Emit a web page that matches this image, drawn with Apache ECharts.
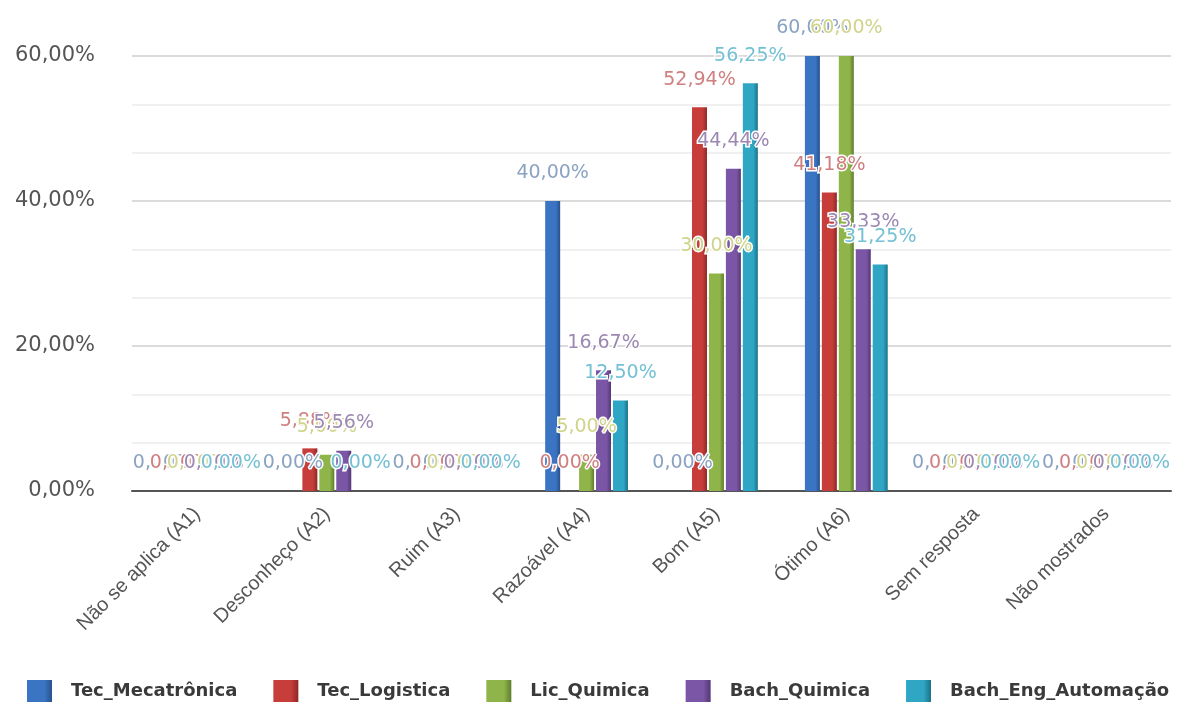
<!DOCTYPE html>
<html>
<head>
<meta charset="utf-8">
<script src="https://cdn.jsdelivr.net/npm/echarts@6/dist/echarts.min.js"></script>
<style>
html,body{margin:0;padding:0;background:#fff;}
#chart{width:1179px;height:703px;}
</style>
</head>
<body>
<div id="chart"></div>
<script>
const categories = ['Não se aplica (A1)', 'Desconheço (A2)', 'Ruim (A3)', 'Razoável (A4)', 'Bom (A5)', 'Ótimo (A6)', 'Sem resposta', 'Não mostrados'];
const seriesNames = ['Tec_Mecatrônica', 'Tec_Logistica', 'Lic_Quimica', 'Bach_Quimica', 'Bach_Eng_Automação'];
const tecMecatronica = [0, 0, 0, 40.00, 0, 60.00, 0, 0];
const tecLogistica   = [0, 5.88, 0, 0, 52.94, 41.18, 0, 0];
const licQuimica     = [0, 5.00, 0, 5.00, 30.00, 60.00, 0, 0];
const bachQuimica    = [0, 5.56, 0, 16.67, 44.44, 33.33, 0, 0];
const bachEngAuto    = [0, 0, 0, 12.50, 56.25, 31.25, 0, 0];
const yTicks = [0, 20, 40, 60];

const seriesData = [tecMecatronica, tecLogistica, licQuimica, bachQuimica, bachEngAuto];
const barColors = ['#3b74c2', '#c63d3a', '#8fb54a', '#7c56a6', '#2ea6c4'];
const darkColors = ['#27528c', '#8e2826', '#5f7d2c', '#523874', '#1b7188'];
const labelColors = ['#8aa3c2', '#cf7f80', '#cfd48a', '#9c88b2', '#74c0d4'];

function fmt(v){ return v.toFixed(2).replace('.', ',') + '%'; }

const series = seriesData.map((d, i) => ({
  name: seriesNames[i],
  type: 'bar',
  data: d,
  barWidth: 15,
  barGap: '13%',
  itemStyle: {
    color: new echarts.graphic.LinearGradient(0, 0, 1, 0, [
      {offset: 0, color: barColors[i]},
      {offset: 0.7, color: barColors[i]},
      {offset: 1, color: darkColors[i]}
    ])
  },
  label: {
    show: true,
    position: 'top',
    distance: 18,
    formatter: p => fmt(p.value),
    color: labelColors[i],
    fontSize: 19,
    fontFamily: 'DejaVu Sans, sans-serif',
    textBorderColor: '#fff',
    textBorderWidth: 3
  }
}));

const chart = echarts.init(document.getElementById('chart'));
chart.setOption({
  animation: false,
  backgroundColor: '#fff',
  grid: { left: 132, right: 8, top: 56, bottom: 212, containLabel: false },
  legend: {
    data: seriesNames.map(n => ({name: n, icon: 'rect'})),
    left: 27,
    bottom: 1,
    padding: 0,
    itemWidth: 25,
    itemHeight: 22,
    itemGap: 36,
    textStyle: {
      fontSize: 18,
      fontWeight: 'bold',
      color: '#3a3a3a',
      fontFamily: 'DejaVu Sans, sans-serif',
      padding: [0, 0, 0, 14]
    }
  },
  xAxis: {
    type: 'category',
    data: categories,
    axisTick: { show: false },
    axisLine: { lineStyle: { color: '#555', width: 2 } },
    axisLabel: {
      rotate: 45,
      fontSize: 20,
      color: '#555',
      margin: 20,
      interval: 0,
      fontFamily: 'Liberation Sans, Arial, sans-serif'
    }
  },
  yAxis: {
    type: 'value',
    min: yTicks[0],
    max: yTicks[yTicks.length - 1],
    interval: 20,
    axisLine: { show: false },
    axisTick: { show: false },
    axisLabel: {
      formatter: v => fmt(v),
      fontSize: 21,
      color: '#555',
      margin: 37,
      fontFamily: 'DejaVu Sans, sans-serif'
    },
    splitLine: { lineStyle: { color: '#cfcfcf', width: 1.5 } },
    minorSplitLine: { show: true, lineStyle: { color: '#ebebeb', width: 1.5 } },
    minorTick: { show: false, splitNumber: 3 }
  },
  series: series
});
</script>
</body>
</html>
